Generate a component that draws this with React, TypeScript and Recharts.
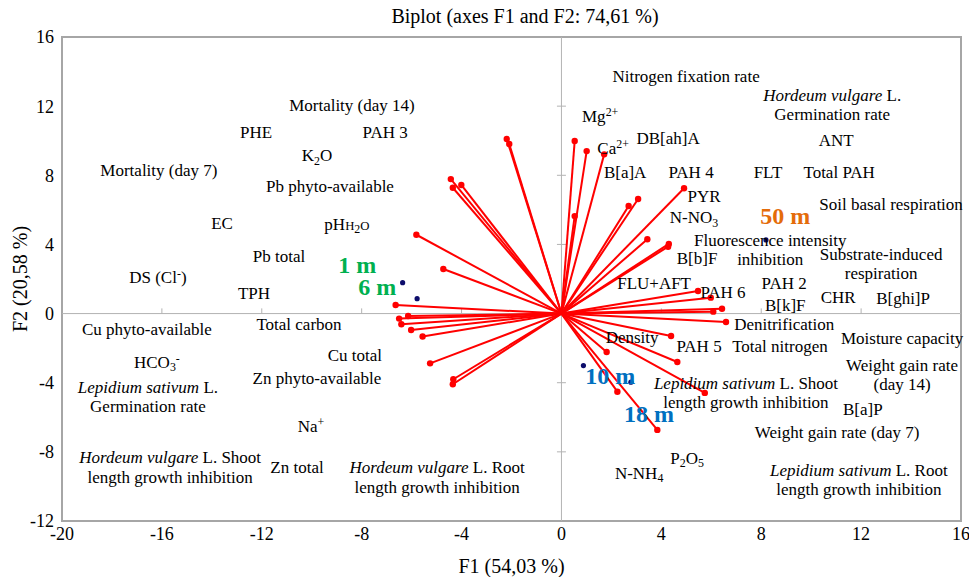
import React from "react";
import { ScatterChart, Scatter, XAxis, YAxis, ReferenceLine, ReferenceArea } from "recharts";

const FONT = "'Liberation Serif', 'DejaVu Serif', 'Times New Roman', Times, serif";

const xTicks = [-20, -16, -12, -8, -4, 0, 4, 8, 12, 16];
const yTicks = [-12, -8, -4, 0, 4, 8, 12, 16];

// variable loadings (F1, F2)
const vectorX = [
  -2.19, -2.09, -4.43, -4.35, -4.01, -5.81, -4.73, -6.64, -6.5, -6.14, -6.41, -6.02, -5.56, -5.26, -4.33, -4.35,
  0.53, 1.01, 1.71, 0.53, 2.69, 3.07, 4.91, 3.44, 4.3, 4.27, 5.47, 5.98, 6.43, 6.08, 6.59, 4.39, 1.81, 4.64, 5.74,
  2.24, 3.84,
];
const vectorY = [
  10.1, 9.81, 7.78, 7.28, 7.44, 4.56, 2.58, 0.5, -0.29, -0.14, -0.62, -0.95, -1.33, -2.88, -3.8, -4.09,
  9.98, 9.4, 9.21, 5.64, 6.22, 6.63, 7.25, 4.3, 4.03, 3.87, 1.31, 0.92, 0.28, 0.11, -0.49, -1.3, -2.22, -2.8, -4.59,
  -4.52, -6.73,
];

// observations (sampling depths)
const obsNames = ["1 m", "6 m", "10 m", "18 m", "50 m"];
const obsX = [-6.36, -5.78, 0.88, 2.78, 8.19];
const obsY = [1.79, 0.86, -3.01, -3.97, 4.26];
const obsLabelX = [-8.18, -7.38, 1.95, 3.51, 8.96];
const obsLabelY = [2.81, 1.54, -3.61, -5.81, 5.64];
const obsColors = ["#00b050", "#00b050", "#0070c0", "#0070c0", "#e46c0a"];

// variable labels: text (markup: _{sub} ^{sup} *italic* ~{small}), F1, F2
const variableLabels: [string, number, number][] = [
  ["Nitrogen fixation rate", 4.99, 13.74],
  ["*Hordeum vulgare* L.\nGermination rate", 10.84, 12.09],
  ["Mg^{2+}", 1.55, 11.43],
  ["Ca^{2+}", 2.07, 9.58],
  ["DB[ah]A", 4.27, 10.16],
  ["ANT", 11.0, 10.04],
  ["B[a]A", 2.55, 8.19],
  ["PAH 4", 5.19, 8.19],
  ["FLT", 8.27, 8.19],
  ["Total PAH", 11.12, 8.19],
  ["PYR", 5.71, 6.81],
  ["Soil basal respiration", 13.2, 6.34],
  ["N-NO_{3}", 5.31, 5.58],
  ["Fluorescence intensity\ninhibition", 8.36, 3.7],
  ["B[b]F", 5.43, 3.22],
  ["Substrate-induced\nrespiration", 12.8, 2.9],
  ["FLU+AFT", 3.71, 1.77],
  ["PAH 6", 6.47, 1.25],
  ["PAH 2", 8.92, 1.77],
  ["B[k]F", 8.96, 0.5],
  ["CHR", 11.08, 0.96],
  ["B[ghi]P", 13.68, 0.9],
  ["Denitrification", 8.92, -0.6],
  ["Moisture capacity", 13.64, -1.41],
  ["Density", 2.83, -1.35],
  ["PAH 5", 5.51, -1.87],
  ["Total nitrogen", 8.75, -1.87],
  ["Weight gain rate\n(day 14)", 13.64, -3.52],
  ["*Lepidium sativum* L. Shoot\nlength growth inhibition", 7.39, -4.56],
  ["B[a]P", 12.07, -5.52],
  ["Weight gain rate (day 7)", 11.04, -6.85],
  ["P_{2}O_{5}", 5.03, -8.35],
  ["N-NH_{4}", 3.11, -9.22],
  ["*Lepidium sativum* L. Root\nlength growth inhibition", 11.91, -9.6],
  ["Mortality (day 14)", -8.39, 12.06],
  ["PHE", -12.23, 10.5],
  ["PAH 3", -7.06, 10.5],
  ["K_{2}O", -9.79, 9.17],
  ["Mortality (day 7)", -16.12, 8.3],
  ["Pb phyto-available", -9.27, 7.38],
  ["EC", -13.59, 5.24],
  ["pH~{H}_{2}~{O}", -8.59, 5.18],
  ["Pb total", -11.31, 3.33],
  ["DS (Cl^{-})", -16.16, 2.12],
  ["TPH", -12.31, 1.19],
  ["Cu phyto-available", -16.6, -0.89],
  ["Total carbon", -10.51, -0.6],
  ["HCO_{3}^{-}", -16.2, -2.8],
  ["Cu total", -8.27, -2.39],
  ["*Lepidium sativum* L.\nGermination rate", -16.56, -4.79],
  ["Zn phyto-available", -9.79, -3.73],
  ["Na^{+}", -10.03, -6.5],
  ["*Hordeum vulgare* L. Shoot\nlength growth inhibition", -15.67, -8.87],
  ["Zn total", -10.59, -8.87],
  ["*Hordeum vulgare* L. Root\nlength growth inhibition", -4.98, -9.45],
];

const vectorEnds = vectorX.map((x, i) => ({ x, y: vectorY[i] }));
const obsPoints = obsX.map((x, i) => ({ x, y: obsY[i] }));
const obsLabelData = obsNames.map((text, i) => ({
  x: obsLabelX[i], y: obsLabelY[i], text, color: obsColors[i], size: 24, bold: true,
}));
const varLabelData = variableLabels.map(([text, x, y]) => ({ x, y, text, color: "#000", size: 17, bold: false }));

function RichText({ cx, cy, text, size, color, bold }: any) {
  const lines = String(text).split("\n");
  const lh = size * 1.15;
  const out: any[] = [];
  lines.forEach((line, li) => {
    const base = cy + (li - (lines.length - 1) / 2) * lh + size * 0.35;
    const parts = line.split(/(_\{[^}]*\}|\^\{[^}]*\}|\*[^*]*\*|~\{[^}]*\})/).filter((p) => p !== "");
    let shift = 0;
    parts.forEach((p, pi) => {
      let content = p;
      let target = 0;
      let fs = size;
      let italic = false;
      if (p.startsWith("_{")) { content = p.slice(2, -1); target = 3.5; fs = size * 0.7; }
      else if (p.startsWith("^{")) { content = p.slice(2, -1); target = -6; fs = size * 0.7; }
      else if (p.startsWith("~{")) { content = p.slice(2, -1); fs = size * 0.75; }
      else if (p.startsWith("*")) { content = p.slice(1, -1); italic = true; }
      const dy = target - shift;
      shift = target;
      out.push(
        <tspan
          key={`${li}-${pi}`}
          x={pi === 0 ? cx : undefined}
          y={pi === 0 ? base + target : undefined}
          dy={pi === 0 ? undefined : dy}
          fontSize={fs}
          fontStyle={italic ? "italic" : "normal"}
        >
          {content}
        </tspan>
      );
    });
  });
  return (
    <text textAnchor="middle" fill={color} fontFamily={FONT} fontWeight={bold ? "bold" : "normal"} fontSize={size}>
      {out}
    </text>
  );
}

export default function App() {
  return (
    <div style={{ position: "relative", width: 969, height: 577, background: "#fff", fontFamily: FONT }}>
      <style>{"body{margin:0}"}</style>
      <div
        style={{
          position: "absolute", top: 5, left: 0, width: 1050, textAlign: "center",
          fontFamily: FONT, fontSize: 20, color: "#000",
        }}
      >
        Biplot (axes F1 and F2: 74,61 %)
      </div>
      <div
        style={{
          position: "absolute", left: 20, top: 279, width: 200, height: 24, marginLeft: -100, marginTop: -12,
          textAlign: "center", lineHeight: "24px", transform: "rotate(-90deg)",
          fontFamily: FONT, fontSize: 20, color: "#000", zIndex: 2,
        }}
      >
        F2 (20,58 %)
      </div>
      <ScatterChart width={969} height={577} margin={{ top: 37, right: 8, bottom: 26, left: 12 }}>
        <XAxis
          type="number" dataKey="x" domain={[-20, 16]} ticks={xTicks} interval={0}
          axisLine={false} tickLine={false} tickSize={4} height={30}
          tick={{ fontSize: 18, fill: "#000", fontFamily: FONT }}
          label={{ value: "F1 (54,03 %)", position: "bottom", offset: 8, fontSize: 20, fill: "#000", fontFamily: FONT }}
        />
        <YAxis
          type="number" dataKey="y" domain={[-12, 16]} ticks={yTicks} interval={0}
          axisLine={false} tickLine={false} width={50}
          tick={{ fontSize: 18, fill: "#000", fontFamily: FONT }}
        />
        <ReferenceArea x1={-20} x2={16} y1={-12} y2={16} fill="none" stroke="#a6a6a6" strokeWidth={2} />
        <ReferenceLine x={0} stroke="#b3b3b3" strokeWidth={1} />
        <ReferenceLine y={0} stroke="#b3b3b3" strokeWidth={1} />
        {xTicks.filter((t) => t > -20 && t < 16 && t !== 0).map((t) => (
          <ReferenceLine key={`xt${t}`} segment={[{ x: t, y: 0 }, { x: t, y: 0.3 }]} stroke="#b3b3b3" strokeWidth={1} />
        ))}
        {yTicks.filter((t) => t > -12 && t < 16 && t !== 0).map((t) => (
          <ReferenceLine key={`yt${t}`} segment={[{ x: -0.18, y: t }, { x: 0.18, y: t }]} stroke="#b3b3b3" strokeWidth={1} />
        ))}
        {vectorEnds.map((p, i) => (
          <ReferenceLine key={`v${i}`} segment={[{ x: 0, y: 0 }, p]} stroke="#ff0000" strokeWidth={2} ifOverflow="visible" />
        ))}
        <Scatter data={vectorEnds} fill="#ff0000" isAnimationActive={false}
          shape={(props: any) => <circle cx={props.cx} cy={props.cy} r={3.2} fill="#ff0000" />} />
        <Scatter data={obsPoints} fill="#0d0d6b" isAnimationActive={false}
          shape={(props: any) => <circle cx={props.cx} cy={props.cy} r={2.6} fill="#0d0d6b" />} />
        <Scatter data={varLabelData} isAnimationActive={false}
          shape={(props: any) => <RichText cx={props.cx} cy={props.cy} {...props.payload} />} />
        <Scatter data={obsLabelData} isAnimationActive={false}
          shape={(props: any) => <RichText cx={props.cx} cy={props.cy} {...props.payload} />} />
      </ScatterChart>
    </div>
  );
}
